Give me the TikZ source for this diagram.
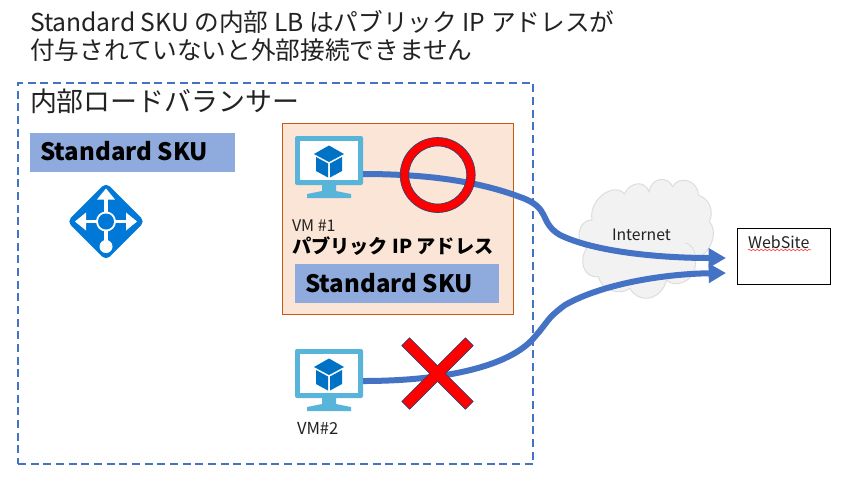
\documentclass[tikz,border=0pt]{standalone}
\usepackage{fontspec}
\setmainfont{Noto Sans CJK JP}
\usetikzlibrary{arrows.meta,decorations.pathmorphing}
\definecolor{azline}{HTML}{4472C4}
\definecolor{barblue}{HTML}{8FAADC}
\definecolor{peach}{HTML}{FBE5D6}
\definecolor{rust}{HTML}{C55A11}
\definecolor{vmscreen}{HTML}{59B4D9}
\definecolor{cubeblue}{HTML}{0072C6}
\definecolor{lbblue}{HTML}{0078D7}
\definecolor{cloudfill}{HTML}{F2F2F2}
\definecolor{clouddraw}{HTML}{DDDDDD}
\definecolor{txt}{HTML}{222222}
\tikzset{
  x=0.75pt,y=-0.75pt,
  lbl/.style={inner sep=0pt,outer sep=0pt,text=txt,anchor=west},
  bar/.style={fill=barblue,draw=none,inner sep=0pt,outer sep=0pt,minimum width=153.75pt,anchor=north west,minimum height=29.5pt},
  barlabel/.style={inner sep=0pt,anchor=west,font=\fontsize{18}{20}\selectfont\bfseries,text=black},
  flow/.style={draw=azline,line width=4.5pt,-{Triangle[length=13pt,width=14pt]}},
  redmark/.style={fill=red,draw=azline!60!black,line width=0.5pt},
  vmicon/.pic={
    \fill[vmscreen,rounded corners=1.5pt] (0,0) rectangle (68,49);
    \fill[white] (5,5) rectangle (63,44);
    \fill[vmscreen] (27,49) -- (41,49) -- (41,55) -- (56,58) -- (56,62) -- (12,62) -- (12,58) -- (27,55) -- cycle;
    \fill[cubeblue] (34,9.5) -- (49,18) -- (34,26) -- (19,18) -- cycle;
    \fill[cubeblue] (21,21) -- (33,27.5) -- (33,41.5) -- (21,35) -- cycle;
    \fill[cubeblue] (47,21) -- (35,27.5) -- (35,41.5) -- (47,35) -- cycle;
  },
}
\begin{document}
\begin{tikzpicture}
\useasboundingbox (0,0) rectangle (867,483);
\fill[white] (0,0) rectangle (867,483);
% title
\node[lbl,align=left,font=\fontsize{18.5}{21}\selectfont] (title) at (30,36) {Standard SKU の内部 LB はパブリック IP アドレスが\\付与されていないと外部接続できません};
% outer dashed box
\node[draw=azline,line width=1.5pt,dash pattern=on 6pt off 3.5pt,minimum width=386.25pt,minimum height=285.75pt,inner sep=0pt,outer sep=0pt,anchor=north west] (lbbox) at (18,83) {};
\node[lbl,font=\fontsize{20.2}{23}\selectfont] (lbtitle) at (30,101) {内部ロードバランサー};
% left SKU
\node[bar] (sku1) at (30,133) {};
\node[barlabel] (sku1t) at (40,151) {Standard SKU};
% load balancer icon
\begin{scope}[shift={(106,221.5)}]
  \fill[lbblue,rounded corners=4pt,rotate=45] (-27.5,-27.5) rectangle (27.5,27.5);
  \draw[white,line width=2.6pt] (-30,0) -- (30,0) (0,-30) -- (0,25);
  \fill[white] (0,-33) -- (-9,-22) -- (9,-22) -- cycle;
  \fill[white] (-31,0) -- (-20,-9) -- (-20,9) -- cycle;
  \fill[white] (31,0) -- (20,-9) -- (20,9) -- cycle;
  \fill[white] (0,0) circle[radius=10];
  \fill[lbblue] (0,0) circle[radius=8];
  \fill[white] (0,25) circle[radius=6.5];
\end{scope}
% peach box
\node[fill=peach,draw=rust,line width=0.75pt,minimum width=173.25pt,minimum height=143.25pt,inner sep=0pt,outer sep=0pt,anchor=north west] (pip) at (282,123) {};
\pic at (295,136) {vmicon};
\coordinate (vm1out) at (363,174);
\node[lbl,font=\fontsize{12}{14}\selectfont] (vm1t) at (292,226) {VM \#1};
\node[lbl,font=\fontsize{14.4}{16}\selectfont\bfseries,text=black] (piptext) at (292,246) {パブリック IP アドレス};
\node[bar,minimum width=153pt] (sku2) at (295,264) {};
\node[barlabel] (sku2t) at (305,283) {Standard SKU};
% VM2
\pic at (295,349) {vmicon};
\coordinate (vm2out) at (363,381);
\node[lbl,font=\fontsize{12.4}{14}\selectfont] (vm2t) at (297,428) {VM\#2};
% cloud
\begin{scope}[shift={(530,170)},x=0.25pt,y=-0.25pt]
\path[fill=cloudfill,draw=clouddraw,line width=0.75pt]
  (186,150) .. controls (175,85) and (255,35) .. (283,72)
  .. controls (300,35) and (345,30) .. (357,65)
  .. controls (365,20) and (415,18) .. (428,50)
  .. controls (445,15) and (505,30) .. (505,75)
  .. controls (545,90) and (550,130) .. (538,155)
  .. controls (562,180) and (552,240) .. (497,270)
  .. controls (500,340) and (430,355) .. (410,330)
  .. controls (390,398) and (320,398) .. (300,355)
  .. controls (270,378) and (215,362) .. (205,320)
  .. controls (160,325) and (145,270) .. (170,235)
  .. controls (135,220) and (140,150) .. (186,150) -- cycle;
\draw[clouddraw,line width=0.6pt] (465,218) .. controls (490,225) and (498,250) .. (497,270);
\end{scope}
\node[lbl,font=\fontsize{11.8}{14}\selectfont] (inet) at (612,235) {Internet};
% website
\node[draw=black,line width=0.75pt,fill=white,minimum width=69.75pt,minimum height=42pt,inner sep=0pt,outer sep=0pt,anchor=north west] (web) at (737,228) {};
\node[lbl,font=\fontsize{12}{14}\selectfont] (webt) at (748,242) {WebSite};
\coordinate (w1) at (748,250);
\coordinate (w2) at (811,250);
\draw[red!70,line width=0.5pt,decorate,decoration={snake,amplitude=0.6pt,segment length=3pt}] (w1) -- (w2);
% arrows
\coordinate (in1) at (726,258);
\coordinate (in2) at (726,273);
\draw[flow] (vm1out) .. controls (430,174) and (480,182) .. (520,197)
  .. controls (552,208) and (538,222) .. (560,235)
  .. controls (595,252) and (660,258) .. (in1);
\draw[flow] (vm2out) .. controls (440,381) and (505,368) .. (532,340)
  .. controls (550,320) and (545,320) .. (565,305)
  .. controls (600,285) and (660,274) .. (in2);
% red circle
\path[redmark,even odd rule] (437.7,175) circle[radius=37.5] (437.7,175) circle[radius=29];
% red X
\begin{scope}[shift={(437.5,373.5)},rotate=45]
\path[redmark] (-5.5,-45) -- (5.5,-45) -- (5.5,-5.5) -- (45,-5.5) -- (45,5.5) -- (5.5,5.5) -- (5.5,45) -- (-5.5,45) -- (-5.5,5.5) -- (-45,5.5) -- (-45,-5.5) -- (-5.5,-5.5) -- cycle;
\end{scope}
\end{tikzpicture}
\end{document}
